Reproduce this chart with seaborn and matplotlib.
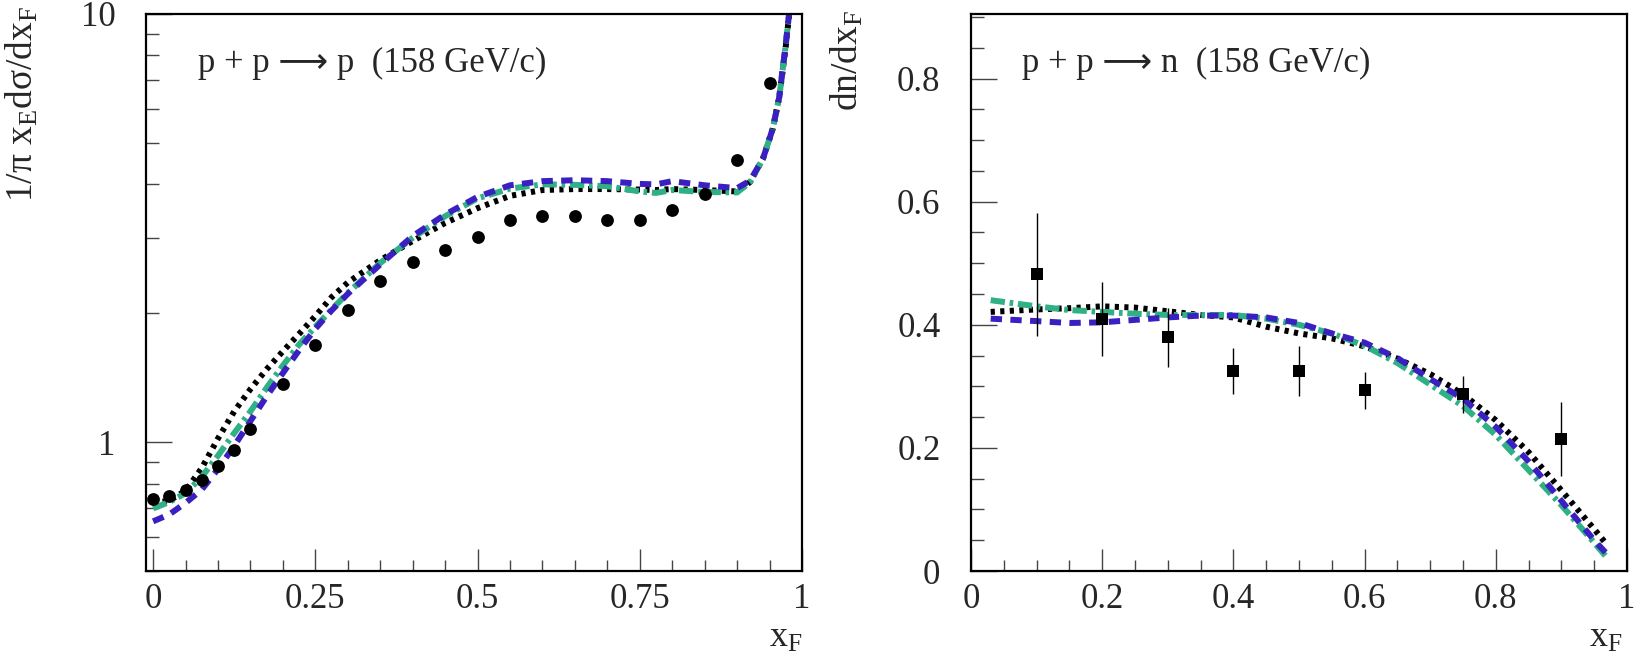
import matplotlib
matplotlib.use("Agg")
import matplotlib.pyplot as plt
import matplotlib.ticker as mticker
import seaborn as sns
import pandas as pd

# ---- data: p + p -> p (left, log scale) ----
p_data_x = [0.0, 0.025, 0.05, 0.075, 0.1, 0.125, 0.15, 0.2, 0.25, 0.3, 0.35, 0.4,
            0.45, 0.5, 0.55, 0.6, 0.65, 0.7, 0.75, 0.8, 0.85, 0.9, 0.95]
p_data_y = [0.738, 0.748, 0.774, 0.817, 0.881, 0.961, 1.072, 1.364, 1.683, 2.036, 2.38, 2.64,
            2.81, 3.02, 3.30, 3.38, 3.37, 3.30, 3.31, 3.49, 3.80, 4.57, 6.89]

p_x = [0.0, 0.025, 0.05, 0.075, 0.1, 0.125, 0.15, 0.175, 0.2, 0.225, 0.25, 0.275, 0.3,
       0.35, 0.4, 0.45, 0.5, 0.55, 0.6, 0.65, 0.7, 0.75, 0.775, 0.8, 0.85, 0.9,
       0.92, 0.94, 0.955, 0.965, 0.975, 0.98]
p_dotted = [0.72, 0.73, 0.77, 0.87, 1.02, 1.18, 1.33, 1.48, 1.63, 1.79, 1.97, 2.18, 2.36,
            2.66, 2.95, 3.25, 3.52, 3.76, 3.88, 3.90, 3.90, 3.89, 3.88, 3.90, 3.88, 3.85,
            4.05, 4.6, 5.4, 6.4, 8.4, 9.9]
p_dashdot = [0.70, 0.725, 0.76, 0.83, 0.93, 1.05, 1.18, 1.34, 1.51, 1.69, 1.86, 2.04, 2.23,
             2.62, 3.00, 3.37, 3.71, 3.91, 4.00, 3.99, 3.96, 3.85, 3.82, 3.88, 3.84, 3.83,
             4.05, 4.6, 5.4, 6.4, 8.5, 10.0]
p_dashed = [0.653, 0.678, 0.721, 0.775, 0.865, 0.98, 1.12, 1.28, 1.45, 1.64, 1.84, 2.03, 2.22,
            2.60, 3.03, 3.40, 3.74, 3.98, 4.07, 4.09, 4.07, 4.01, 4.00, 4.07, 3.98, 3.92,
            4.08, 4.6, 5.4, 6.4, 8.5, 10.0]

# ---- data: p + p -> n (right, linear) ----
n_data_x = [0.1, 0.2, 0.3, 0.4, 0.5, 0.6, 0.75, 0.9]
n_data_y = [0.482, 0.409, 0.380, 0.325, 0.325, 0.294, 0.287, 0.215]
n_data_err = [0.10, 0.06, 0.048, 0.037, 0.04, 0.03, 0.03, 0.06]

n_x = [0.03, 0.1, 0.15, 0.2, 0.25, 0.3, 0.35, 0.4, 0.45, 0.5, 0.55, 0.6, 0.65, 0.7,
       0.75, 0.8, 0.85, 0.9, 0.95, 0.97]
n_dotted = [0.421, 0.425, 0.427, 0.430, 0.428, 0.422, 0.416, 0.412, 0.397, 0.386, 0.378,
            0.365, 0.345, 0.320, 0.287, 0.245, 0.193, 0.131, 0.068, 0.042]
n_dashdot = [0.440, 0.430, 0.424, 0.421, 0.418, 0.416, 0.416, 0.416, 0.410, 0.400, 0.386,
             0.366, 0.338, 0.303, 0.268, 0.221, 0.164, 0.107, 0.046, 0.021]
n_dashed = [0.410, 0.406, 0.403, 0.404, 0.408, 0.412, 0.415, 0.415, 0.412, 0.403, 0.386,
            0.371, 0.346, 0.312, 0.280, 0.234, 0.178, 0.114, 0.050, 0.027]

GREEN = "#2fb085"
BLUE = "#3a20c0"
FS = 25

sns.set_theme(style="white")
plt.rcParams["font.family"] = ["Liberation Serif", "DejaVu Sans"]
plt.rcParams["mathtext.fontset"] = "custom"
plt.rcParams["mathtext.rm"] = "Liberation Serif"
plt.rcParams["mathtext.it"] = "Liberation Serif:italic"
plt.rcParams["font.size"] = FS

W, H = 1635, 654
fig = plt.figure(figsize=(W / 100, H / 100), dpi=100)
ax1 = fig.add_axes([146 / W, 1 - 571 / H, 656 / W, 557 / H])
ax2 = fig.add_axes([971 / W, 1 - 571 / H, 656 / W, 557 / H])

styles = [
    ("dotted", "black", (0, (0.7, 0.9))),
    ("dashdot", GREEN, (0, (2.4, 0.8, 0.6, 0.8))),
    ("dashed", BLUE, (0, (1.9, 1.4))),
]


def draw_curves(ax, x, curves):
    for (name, col, ls), y in zip(styles, curves):
        df = pd.DataFrame({"x": x, "y": y})
        sns.lineplot(data=df, x="x", y="y", ax=ax, color=col, lw=4.3,
                     linestyle=ls, solid_capstyle="butt", dash_capstyle="butt")


# left panel
ax1.set_yscale("log")
draw_curves(ax1, p_x, [p_dotted, p_dashdot, p_dashed])
sns.scatterplot(x=p_data_x, y=p_data_y, ax=ax1, color="black", s=85,
                marker="o", edgecolor="black", linewidth=0, zorder=5)
ax1.set_xlim(-0.011, 1.0)
ax1.set_ylim(0.5, 10)
ax1.xaxis.set_major_locator(mticker.MultipleLocator(0.25))
ax1.xaxis.set_minor_locator(mticker.MultipleLocator(0.05))
ax1.xaxis.set_major_formatter(mticker.FuncFormatter(lambda v, p: "%g" % v))
ax1.yaxis.set_major_locator(mticker.FixedLocator([1, 10]))
ax1.yaxis.set_major_formatter(mticker.FuncFormatter(lambda v, p: "%g" % v))
ax1.yaxis.set_minor_locator(mticker.LogLocator(base=10, subs=range(2, 10)))
ax1.yaxis.set_minor_formatter(mticker.NullFormatter())

# right panel
draw_curves(ax2, n_x, [n_dotted, n_dashdot, n_dashed])
ax2.errorbar(n_data_x, n_data_y, yerr=n_data_err, fmt="none", ecolor="black",
             elinewidth=1.0, capsize=0, zorder=4)
sns.scatterplot(x=n_data_x, y=n_data_y, ax=ax2, color="black", s=85,
                marker="s", edgecolor="black", linewidth=0, zorder=5)
ax2.set_xlim(0, 1.0)
ax2.set_ylim(0, 0.905)
ax2.xaxis.set_major_locator(mticker.MultipleLocator(0.2))
ax2.xaxis.set_minor_locator(mticker.MultipleLocator(0.05))
ax2.yaxis.set_major_locator(mticker.MultipleLocator(0.2))
ax2.yaxis.set_minor_locator(mticker.MultipleLocator(0.05))
fmt = mticker.FuncFormatter(lambda v, p: "%g" % round(v, 3))
ax2.xaxis.set_major_formatter(fmt)
ax2.yaxis.set_major_formatter(fmt)

for ax in (ax1, ax2):
    ax.set_xlabel("")
    ax.set_ylabel("")
    for s in ax.spines.values():
        s.set_visible(True)
        s.set_color("black")
        s.set_linewidth(1.6)
    ax.tick_params(which="both", direction="in", bottom=True, left=True,
                   top=False, right=False, color="#444444", width=1.0,
                   labelsize=FS)
    ax.tick_params(axis="x", which="major", length=16, pad=9)
    ax.tick_params(axis="x", which="minor", length=8)
    ax.tick_params(axis="y", which="major", length=19, pad=22)
    ax.tick_params(axis="y", which="minor", length=9.5)

# axis titles and annotations
fig.text(22 / W, 1 - 6 / H, r"1/π x$_{\rm E}$dσ/dx$_{\rm F}$", rotation=90,
         ha="center", va="top", fontsize=27)
fig.text(847 / W, 1 - 10 / H, r"dn/dx$_{\rm F}$", rotation=90,
         ha="center", va="top", fontsize=27)
fig.text(786 / W, 1 - 638 / H, r"x$_{\rm F}$", ha="center", va="center", fontsize=26)
fig.text(1606 / W, 1 - 638 / H, r"x$_{\rm F}$", ha="center", va="center", fontsize=26)
fig.text(198 / W, 1 - 63 / H, "p + p ⟶ p  (158 GeV/c)", ha="left", va="center",
         fontsize=FS)
fig.text(1022 / W, 1 - 63 / H, "p + p ⟶ n  (158 GeV/c)", ha="left", va="center",
         fontsize=FS)

fig.savefig("out.png", dpi=100)
